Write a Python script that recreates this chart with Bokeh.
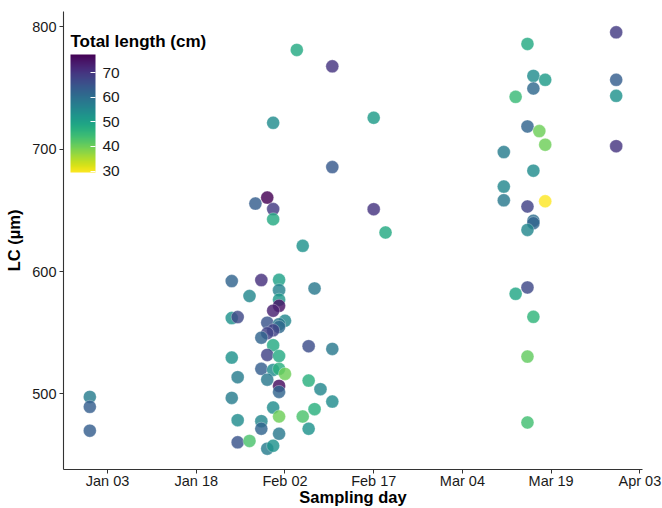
import pandas as pd
from bokeh.plotting import figure
from bokeh.models import (ColumnDataSource, LinearColorMapper, ColorBar, FixedTicker,
                          Range1d, DatetimeTickFormatter, Label)
from bokeh.palettes import Viridis256
from bokeh.embed import file_html
from bokeh.resources import INLINE

# ---------------- data ----------------
sampling_day = [
    "2020-12-31", "2020-12-31", "2020-12-31",
    "2021-02-04", "2021-02-10", "2021-01-31", "2021-02-10", "2021-01-30", "2021-01-28",
    "2021-01-31", "2021-01-31", "2021-02-05",
    "2021-02-17", "2021-02-17", "2021-02-19",
    "2021-01-24", "2021-01-29", "2021-02-01", "2021-02-01", "2021-01-27", "2021-02-07",
    "2021-02-01", "2021-02-01", "2021-01-31", "2021-01-24", "2021-01-25", "2021-02-02",
    "2021-01-30", "2021-02-01", "2021-02-01", "2021-01-31", "2021-01-30", "2021-01-29",
    "2021-01-31", "2021-02-06", "2021-02-10", "2021-01-24", "2021-01-30", "2021-02-01",
    "2021-01-29", "2021-01-31", "2021-02-01", "2021-02-02", "2021-01-25", "2021-01-30",
    "2021-02-06", "2021-02-01", "2021-02-01", "2021-02-08", "2021-01-24", "2021-02-10",
    "2021-01-31", "2021-02-07", "2021-02-01", "2021-02-05", "2021-01-25", "2021-01-29",
    "2021-01-29", "2021-02-06", "2021-02-01", "2021-01-25", "2021-01-27", "2021-01-30",
    "2021-01-31",
    "2021-03-15", "2021-03-16", "2021-03-18", "2021-03-16", "2021-03-13", "2021-03-15",
    "2021-03-17", "2021-03-18", "2021-03-11", "2021-03-16", "2021-03-11", "2021-03-11",
    "2021-03-15", "2021-03-18", "2021-03-16", "2021-03-16", "2021-03-15", "2021-03-15",
    "2021-03-13", "2021-03-16", "2021-03-15", "2021-03-15",
    "2021-03-30", "2021-03-30", "2021-03-30", "2021-03-30",
]
lc_um = [
    497.6, 489.5, 470.0,
    781.0, 767.6, 721.5, 685.3, 660.4, 655.5,
    651.0, 642.7, 621.0,
    725.6, 650.9, 631.9,
    592.2, 593.0, 593.2, 584.8, 580.0, 586.2,
    577.0, 572.0, 568.0, 562.0, 562.8, 559.8,
    558.2, 557.0, 554.7, 552.0, 549.6, 546.0,
    539.8, 539.0, 536.8, 529.7, 531.9, 531.0,
    520.5, 519.6, 520.5, 516.4, 513.7, 511.7,
    510.9, 506.6, 501.7, 503.9, 496.8, 493.8,
    488.9, 487.6, 481.6, 481.6, 478.6, 477.8,
    471.6, 471.6, 467.5, 460.5, 461.6, 455.3,
    457.7,
    785.9, 759.8, 756.6, 749.5, 742.7, 718.5,
    714.7, 703.6, 697.6, 682.4, 669.4, 658.2,
    653.1, 657.4, 641.5, 639.5, 634.0, 587.0,
    581.8, 563.0, 530.5, 476.7,
    795.4, 756.6, 743.5, 702.4,
]
total_length_cm = [
    57, 63, 63,
    48, 70, 54, 64, 77.4, 63,
    69, 48, 53,
    51, 70, 48,
    62, 71, 50, 56, 55, 58,
    52, 75, 73, 53, 67, 55,
    65, 58, 61, 68, 68, 62,
    48, 66, 58, 53, 68, 48,
    63, 54, 47, 40, 57, 58,
    47, 76, 62, 55, 57, 54,
    54, 47, 40, 43, 54, 55,
    62, 53, 58, 65, 43, 57,
    53,
    48, 54, 51, 61, 45, 62,
    40, 40, 57, 54, 55, 58,
    68, 29.4, 60, 62, 55, 67,
    49, 46, 41, 44,
    69, 63, 53, 70,
]
x_tick_dates = ["2021-01-03", "2021-01-18", "2021-02-02", "2021-02-17",
                "2021-03-04", "2021-03-19", "2021-04-03"]
y_ticks = [500, 600, 700, 800]
legend_ticks = [30, 40, 50, 60, 70]
legend_title = "Total length (cm)"

# ---------------- build ----------------
dates = pd.to_datetime(sampling_day)
src = ColumnDataSource(dict(day=dates, lc=lc_um, tl=total_length_cm))

xmin, xmax = dates.min(), dates.max()
xspan = xmax - xmin
ymin, ymax = min(lc_um), max(lc_um)
yspan = ymax - ymin

FONT = "Liberation Sans"

p = figure(width=662, height=508, output_backend="svg", toolbar_location=None,
           x_range=Range1d(xmin - 0.05 * xspan, xmax + 0.05 * xspan),
           y_range=Range1d(ymin - 0.05 * yspan, ymax + 0.05 * yspan),
           min_border_left=63, min_border_right=20, min_border_top=11, min_border_bottom=38,
           x_axis_type="datetime")
p.outline_line_color = None
p.background_fill_color = "white"
p.border_fill_color = "white"
p.xgrid.visible = False
p.ygrid.visible = False

mapper = LinearColorMapper(palette=list(Viridis256[::-1]),
                           low=min(total_length_cm), high=max(total_length_cm))

p.scatter(x="day", y="lc", source=src, size=13,
          fill_color={"field": "tl", "transform": mapper}, fill_alpha=0.82,
          line_color="white", line_width=0.5, line_alpha=0.6)

# axes
p.xaxis.ticker = FixedTicker(ticks=[pd.Timestamp(d).value / 1e6 for d in x_tick_dates])
fmt = "%b %d"
p.xaxis.formatter = DatetimeTickFormatter(milliseconds=fmt, seconds=fmt, minsec=fmt, minutes=fmt,
                                          hourmin=fmt, hours=fmt, days=fmt, months=fmt, years=fmt)
p.yaxis.ticker = FixedTicker(ticks=y_ticks)
p.xaxis.axis_label = "Sampling day"
p.yaxis.axis_label = "LC (µm)"

for ax in (p.xaxis, p.yaxis):
    ax.axis_line_color = "#333333"
    ax.axis_line_width = 1.1
    ax.major_tick_line_color = "#333333"
    ax.major_tick_out = 4
    ax.major_tick_in = 0
    ax.minor_tick_line_color = None
    ax.major_label_text_font = FONT
    ax.major_label_text_font_size = "14.5px"
    ax.major_label_text_color = "#1a1a1a"
    ax.axis_label_text_font = FONT
    ax.axis_label_text_font_size = "16.5px"
    ax.axis_label_text_font_style = "bold"
    ax.axis_label_text_color = "black"

p.xaxis.major_label_standoff = -1
p.xaxis.axis_label_standoff = -4
p.yaxis.major_label_standoff = 3
p.yaxis.axis_label_standoff = 6

cb = ColorBar(color_mapper=mapper, ticker=FixedTicker(ticks=legend_ticks),
              width=25, height=118, location=(7, 297), padding=0, margin=0,
              major_label_text_font=FONT, major_label_text_font_size="15.5px",
              major_label_text_color="#1a1a1a", label_standoff=7,
              major_tick_line_color="white", major_tick_in=5, major_tick_out=0,
              bar_line_color=None, border_line_color=None, background_fill_color=None)
p.add_layout(cb)

p.add_layout(Label(x=7, y=428, x_units="screen", y_units="screen", text=legend_title,
                   text_font=FONT, text_font_size="17px", text_font_style="bold",
                   text_color="black", text_baseline="alphabetic"))

open("out.html", "w").write(file_html(p, INLINE))
